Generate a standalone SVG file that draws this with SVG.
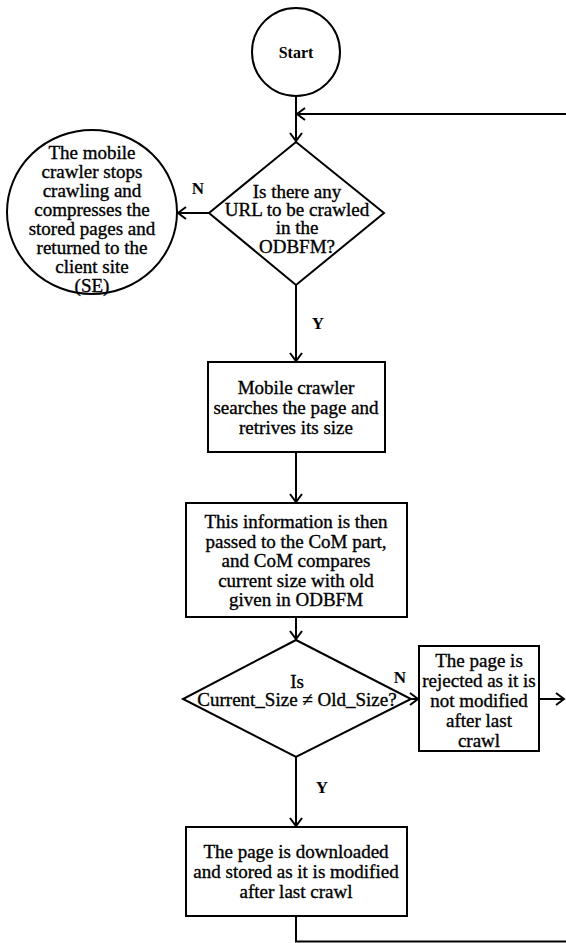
<svg xmlns="http://www.w3.org/2000/svg" width="566" height="943" viewBox="0 0 566 943">
<defs>
<marker id="arr" markerUnits="userSpaceOnUse" markerWidth="12" markerHeight="14" refX="10" refY="7" orient="auto">
<path d="M2,1 L10,7 L2,13" fill="none" stroke="#000" stroke-width="2"/>
</marker>
<style>
.s{fill:#fff;stroke:#000;stroke-width:2}
.t{font-family:"Liberation Serif","Times New Roman",serif;font-size:19px;text-anchor:middle;fill:#000;stroke:#000;stroke-width:0.35}
.b{font-family:"Liberation Serif","Times New Roman",serif;font-size:17px;font-weight:bold;text-anchor:middle;fill:#000}
.c{fill:none;stroke:#000;stroke-width:2}
</style>
</defs>
<rect width="566" height="943" fill="#fff"/>
<g id="connectors">
<line class="c" x1="296" y1="96" x2="296" y2="141" marker-end="url(#arr)"/>
<line class="c" x1="566" y1="114" x2="297" y2="114" marker-end="url(#arr)"/>
<line class="c" x1="209" y1="213" x2="178" y2="213" marker-end="url(#arr)"/>
<line class="c" x1="296" y1="285" x2="296" y2="361" marker-end="url(#arr)"/>
<line class="c" x1="296" y1="452" x2="296" y2="502" marker-end="url(#arr)"/>
<line class="c" x1="296" y1="617" x2="296" y2="639" marker-end="url(#arr)"/>
<line class="c" x1="411" y1="699" x2="418" y2="699" marker-end="url(#arr)"/>
<line class="c" x1="539" y1="699" x2="564" y2="699" marker-end="url(#arr)"/>
<line class="c" x1="296" y1="757" x2="296" y2="826" marker-end="url(#arr)"/>
<polyline class="c" points="296,916 296,941.5 566,941.5"/>
<text class="b" x="198" y="194">N</text>
<text class="b" x="318" y="329">Y</text>
<text class="b" x="400" y="683">N</text>
<text class="b" x="322" y="793">Y</text>
</g>
<g id="start">
<circle class="s" cx="296" cy="52" r="44"/>
<text class="b" x="296" y="58" style="font-size:16px">Start</text>
</g>
<g id="decision1">
<polygon class="s" points="296,142 384,213 296,285 209,213"/>
<text class="t" x="297" y="198">Is there any</text>
<text class="t" x="297" y="216">URL to be crawled</text>
<text class="t" x="297" y="234">in the</text>
<text class="t" x="297" y="253">ODBFM?</text>
</g>
<g id="stop">
<ellipse class="s" cx="92" cy="212" rx="85" ry="82"/>
<text class="t" x="92" y="159">The mobile</text>
<text class="t" x="92" y="178">crawler stops</text>
<text class="t" x="92" y="197">crawling and</text>
<text class="t" x="92" y="216">compresses the</text>
<text class="t" x="92" y="235">stored pages and</text>
<text class="t" x="92" y="254">returned to the</text>
<text class="t" x="92" y="273">client site</text>
<text class="t" x="92" y="292">(SE)</text>
</g>
<g id="search">
<rect class="s" x="208" y="362" width="177" height="90"/>
<text class="t" x="296" y="394">Mobile crawler</text>
<text class="t" x="296" y="414">searches the page and</text>
<text class="t" x="296" y="434">retrives its size</text>
</g>
<g id="compare">
<rect class="s" x="186" y="503" width="221" height="114"/>
<text class="t" x="296" y="528">This information is then</text>
<text class="t" x="296" y="548">passed to the CoM part,</text>
<text class="t" x="296" y="567">and CoM compares</text>
<text class="t" x="296" y="587">current size with old</text>
<text class="t" x="296" y="606">given in ODBFM</text>
</g>
<g id="decision2">
<polygon class="s" points="296,640 411,699 296,757 183,699"/>
<text class="t" x="297" y="688">Is</text>
<text class="t" x="297" y="706">Current_Size ≠ Old_Size?</text>
</g>
<g id="rejected">
<rect class="s" x="419" y="646" width="120" height="105"/>
<text class="t" x="479" y="667">The page is</text>
<text class="t" x="479" y="687">rejected as it is</text>
<text class="t" x="479" y="707">not modified</text>
<text class="t" x="479" y="727">after last</text>
<text class="t" x="479" y="747">crawl</text>
</g>
<g id="download">
<rect class="s" x="186" y="827" width="221" height="89"/>
<text class="t" x="296" y="858">The page is downloaded</text>
<text class="t" x="296" y="878">and stored as it is modified</text>
<text class="t" x="296" y="898">after last crawl</text>
</g>
</svg>
